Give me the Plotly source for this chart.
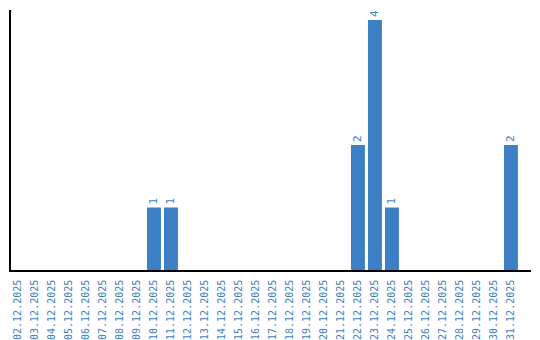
import plotly.graph_objects as go

dates = ["%02d.12.2025" % d for d in range(2, 32)]
values_by_date = {"10.12.2025": 1, "11.12.2025": 1, "22.12.2025": 2,
                  "23.12.2025": 4, "24.12.2025": 1, "31.12.2025": 2}
values = [values_by_date.get(d, 0) for d in dates]
labels = [str(v) if v else "" for v in values]

BLUE = "#3c7fc4"
FONT = "DejaVu Sans Mono"

fig = go.Figure(go.Bar(
    x=dates, y=values, text=labels, textposition="outside",
    textangle=-90, cliponaxis=False,
    textfont=dict(family=FONT, size=11, color=BLUE),
    marker=dict(color=BLUE, line=dict(width=0)),
    width=0.82,
))
fig.update_layout(
    width=540, height=340,
    margin=dict(l=11, r=9, t=10, b=70, autoexpand=False),
    paper_bgcolor="white", plot_bgcolor="white",
    showlegend=False,
    bargap=0.18,
)
fig.update_xaxes(
    type="category", range=[-0.41, 30.18], automargin=False,
    tickangle=-90, tickfont=dict(family=FONT, size=10, color=BLUE),
    ticklabelstandoff=4,
    showline=True, linecolor="black", linewidth=1.5,
    showgrid=False, ticks="", ticklen=0, zeroline=False,
)
fig.update_yaxes(
    range=[0, 4.16], showticklabels=False, showgrid=False, zeroline=False,
    automargin=False,
    showline=True, linecolor="black", linewidth=1.5, ticks="",
)
fig.write_html("out.html")
